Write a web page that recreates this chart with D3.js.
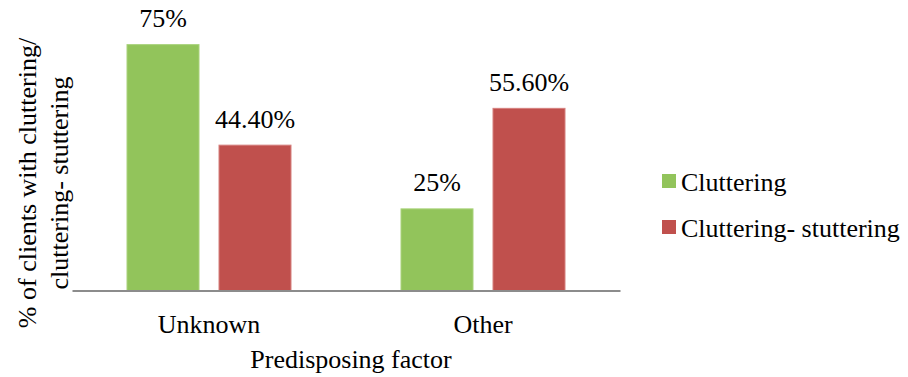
<!DOCTYPE html>
<html>
<head>
<meta charset="utf-8">
<script src="https://cdn.jsdelivr.net/npm/d3@7"></script>
<style>
  html, body { margin: 0; padding: 0; background: #fff; }
  svg { display: block; }
</style>
</head>
<body>
<svg id="chart" width="908" height="377"></svg>
<script>
// Categories (predisposing factor) and series
const categories = ["Unknown", "Other"];
const seriesNames = ["Cluttering", "Cluttering- stuttering"];
const cluttering = [75, 25];
const clutteringStuttering = [44.4, 55.6];
const valueLabels = [["75%", "25%"], ["44.40%", "55.60%"]];
const seriesColors = ["#92C45B", "#C0504D"];
const seriesEdges = ["#A9D27C", "#D6807E"];

const seriesValues = [cluttering, clutteringStuttering];

const FONT = "'Liberation Serif', 'Times New Roman', Times, serif";
const fontSize = 26;

const svg = d3.select("#chart")
  .style("font-family", FONT);

function serif(sel) {
  return sel.style("font-family", FONT).style("font-size", fontSize + "px").attr("fill", "#000");
}

const x0 = d3.scaleBand().domain(categories).range([72, 620]).padding(0);
const groupPad = (x0.bandwidth() - 165) / 2;
const x1 = d3.scaleBand().domain(d3.range(seriesNames.length))
  .range([groupPad, x0.bandwidth() - groupPad])
  .paddingInner(0.2065).paddingOuter(0);
const y = d3.scaleLinear().domain([0, 80]).range([290.5, 27.7]);

// Bars
const groups = svg.append("g").selectAll("g")
  .data(categories)
  .join("g")
  .attr("transform", d => `translate(${x0(d)},0)`);

const cells = (c, ci) => seriesValues.map((vals, si) => ({ si, v: vals[ci], label: valueLabels[si][ci] }));

groups.selectAll("rect")
  .data(cells)
  .join("rect")
  .attr("x", d => x1(d.si) + 0.5)
  .attr("y", d => y(d.v) + 0.5)
  .attr("width", x1.bandwidth() - 1)
  .attr("height", d => y(0) - y(d.v) - 0.5)
  .attr("fill", d => seriesColors[d.si])
  .attr("stroke", d => seriesEdges[d.si])
  .attr("stroke-width", 1);

// Value labels
groups.selectAll("text.val")
  .data(cells)
  .join("text")
  .attr("class", "val")
  .attr("x", d => x1(d.si) + x1.bandwidth() / 2)
  .attr("y", d => y(d.v) - 17)
  .attr("text-anchor", "middle")
  .call(serif)
  .text(d => d.label);

// Category axis
const xAxis = svg.append("g")
  .attr("transform", `translate(0,${y(0)})`)
  .call(d3.axisBottom(x0).tickSize(0).tickPadding(0));
xAxis.attr("font-family", null).attr("font-size", null);
xAxis.select(".domain").attr("stroke", "#8C8C8C").attr("stroke-width", 2);
xAxis.selectAll(".tick text")
  .attr("dy", null)
  .attr("y", 42)
  .call(serif);

// Axis titles
svg.append("text")
  .attr("x", 351).attr("y", 368)
  .attr("text-anchor", "middle")
  .call(serif)
  .text("Predisposing factor");

const yTitle = svg.append("text")
  .attr("transform", "translate(36,183) rotate(-90)")
  .attr("text-anchor", "middle")
  .call(serif);
yTitle.append("tspan").attr("x", 0).attr("y", 0).text("% of clients with cluttering/");
yTitle.append("tspan").attr("x", 0).attr("y", 32).text("cluttering- stuttering");

// Legend
const legend = svg.append("g").selectAll("g")
  .data(seriesNames)
  .join("g")
  .attr("transform", (d, i) => `translate(662,${174 + i * 46})`);
legend.append("rect")
  .attr("width", 14).attr("height", 14)
  .attr("fill", (d, i) => seriesColors[i]);
legend.append("text")
  .attr("x", 19).attr("y", 17)
  .call(serif)
  .text(d => d);
</script>
</body>
</html>
